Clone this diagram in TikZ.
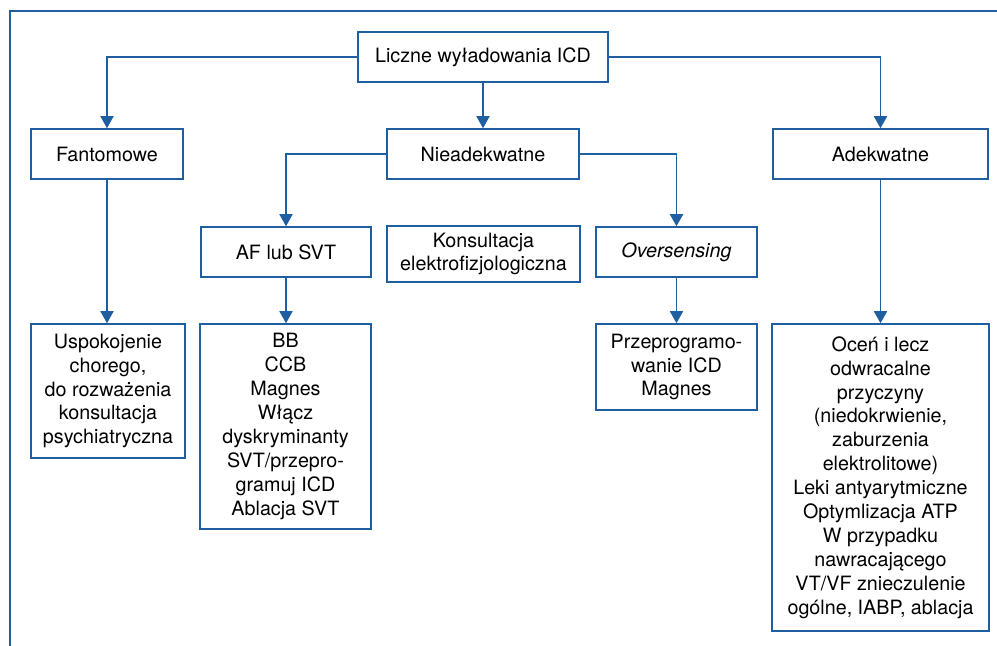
\documentclass[tikz,border=0pt]{standalone}
\usepackage{fontspec}
\setmainfont{TeX Gyre Heros}
\usetikzlibrary{arrows.meta}
\definecolor{blu}{HTML}{1F5FA0}
\begin{document}
\begin{tikzpicture}[x=1bp,y=-1bp,
  box/.style={draw=blu, line width=1.5bp, align=center, inner sep=0pt, fill=white,
    font=\fontsize{19.8}{24}\selectfont},
  conn/.style={draw=blu, line width=1.6bp, -{Triangle[width=13bp,length=12bp]}},
  frame/.style={draw=blu, line width=1.5bp}]
\useasboundingbox (0,0) rectangle (997,646);
\coordinate (f1) at (10,646);
\coordinate (f2) at (10,11);
\coordinate (f3) at (997,11);
\draw[frame] (f1) -- (f2) -- (f3);

\node[box, minimum width=250bp, minimum height=50bp] (top) at (483,57) {Liczne wyładowania ICD};
\node[box, minimum width=152bp, minimum height=50bp] (fan) at (107,154) {Fantomowe};
\node[box, minimum width=192bp, minimum height=50bp] (nie) at (483,154) {Nieadekwatne};
\node[box, minimum width=215bp, minimum height=50bp] (ade) at (880.5,154) {Adekwatne};
\node[box, minimum width=170bp, minimum height=50bp] (af) at (286,252) {AF lub SVT};
\node[box, minimum width=193bp, minimum height=56bp] (kon) at (483.5,254) {Konsultacja\\elektrofizjologiczna};
\node[box, minimum width=161bp, minimum height=50bp] (ovs) at (676.5,252) {\textit{Oversensing}};
\node[box, minimum width=154bp, minimum height=134bp] (usp) at (108,391) {Uspokojenie\\chorego,\\do rozważenia\\konsultacja\\psychiatryczna};
\node[box, minimum width=171bp, minimum height=205bp] (bb) at (285.5,426.5) {BB\\CCB\\Magnes\\Włącz\\dyskryminanty\\SVT/przepro-\\gramuj ICD\\Ablacja SVT};
\node[box, minimum width=161bp, minimum height=86bp] (prz) at (676.5,367) {Przeprogramo-\\wanie ICD\\Magnes};
\node[box, minimum width=217bp, minimum height=307bp] (oce) at (880.5,477.5) {Oceń i lecz\\odwracalne\\przyczyny\\(niedokrwienie,\\zaburzenia\\elektrolitowe)\\Leki antyarytmiczne\\Optymlizacja ATP\\W przypadku\\nawracającego\\VT/VF znieczulenie\\ogólne, IABP, ablacja};

\draw[conn] (top.west) -| (fan.north);
\draw[conn] (top.east) -| (ade.north);
\draw[conn] (top.south) -- (nie.north);
\draw[conn] (nie.west) -| (af.north);
\draw[conn] (nie.east) -| (ovs.north);
\draw[conn] (fan.south) -- (fan.south |- usp.north);
\draw[conn] (af.south) -- (af.south |- bb.north);
\draw[conn] (ovs.south) -- (ovs.south |- prz.north);
\draw[conn] (ade.south) -- (ade.south |- oce.north);
\end{tikzpicture}
\end{document}
